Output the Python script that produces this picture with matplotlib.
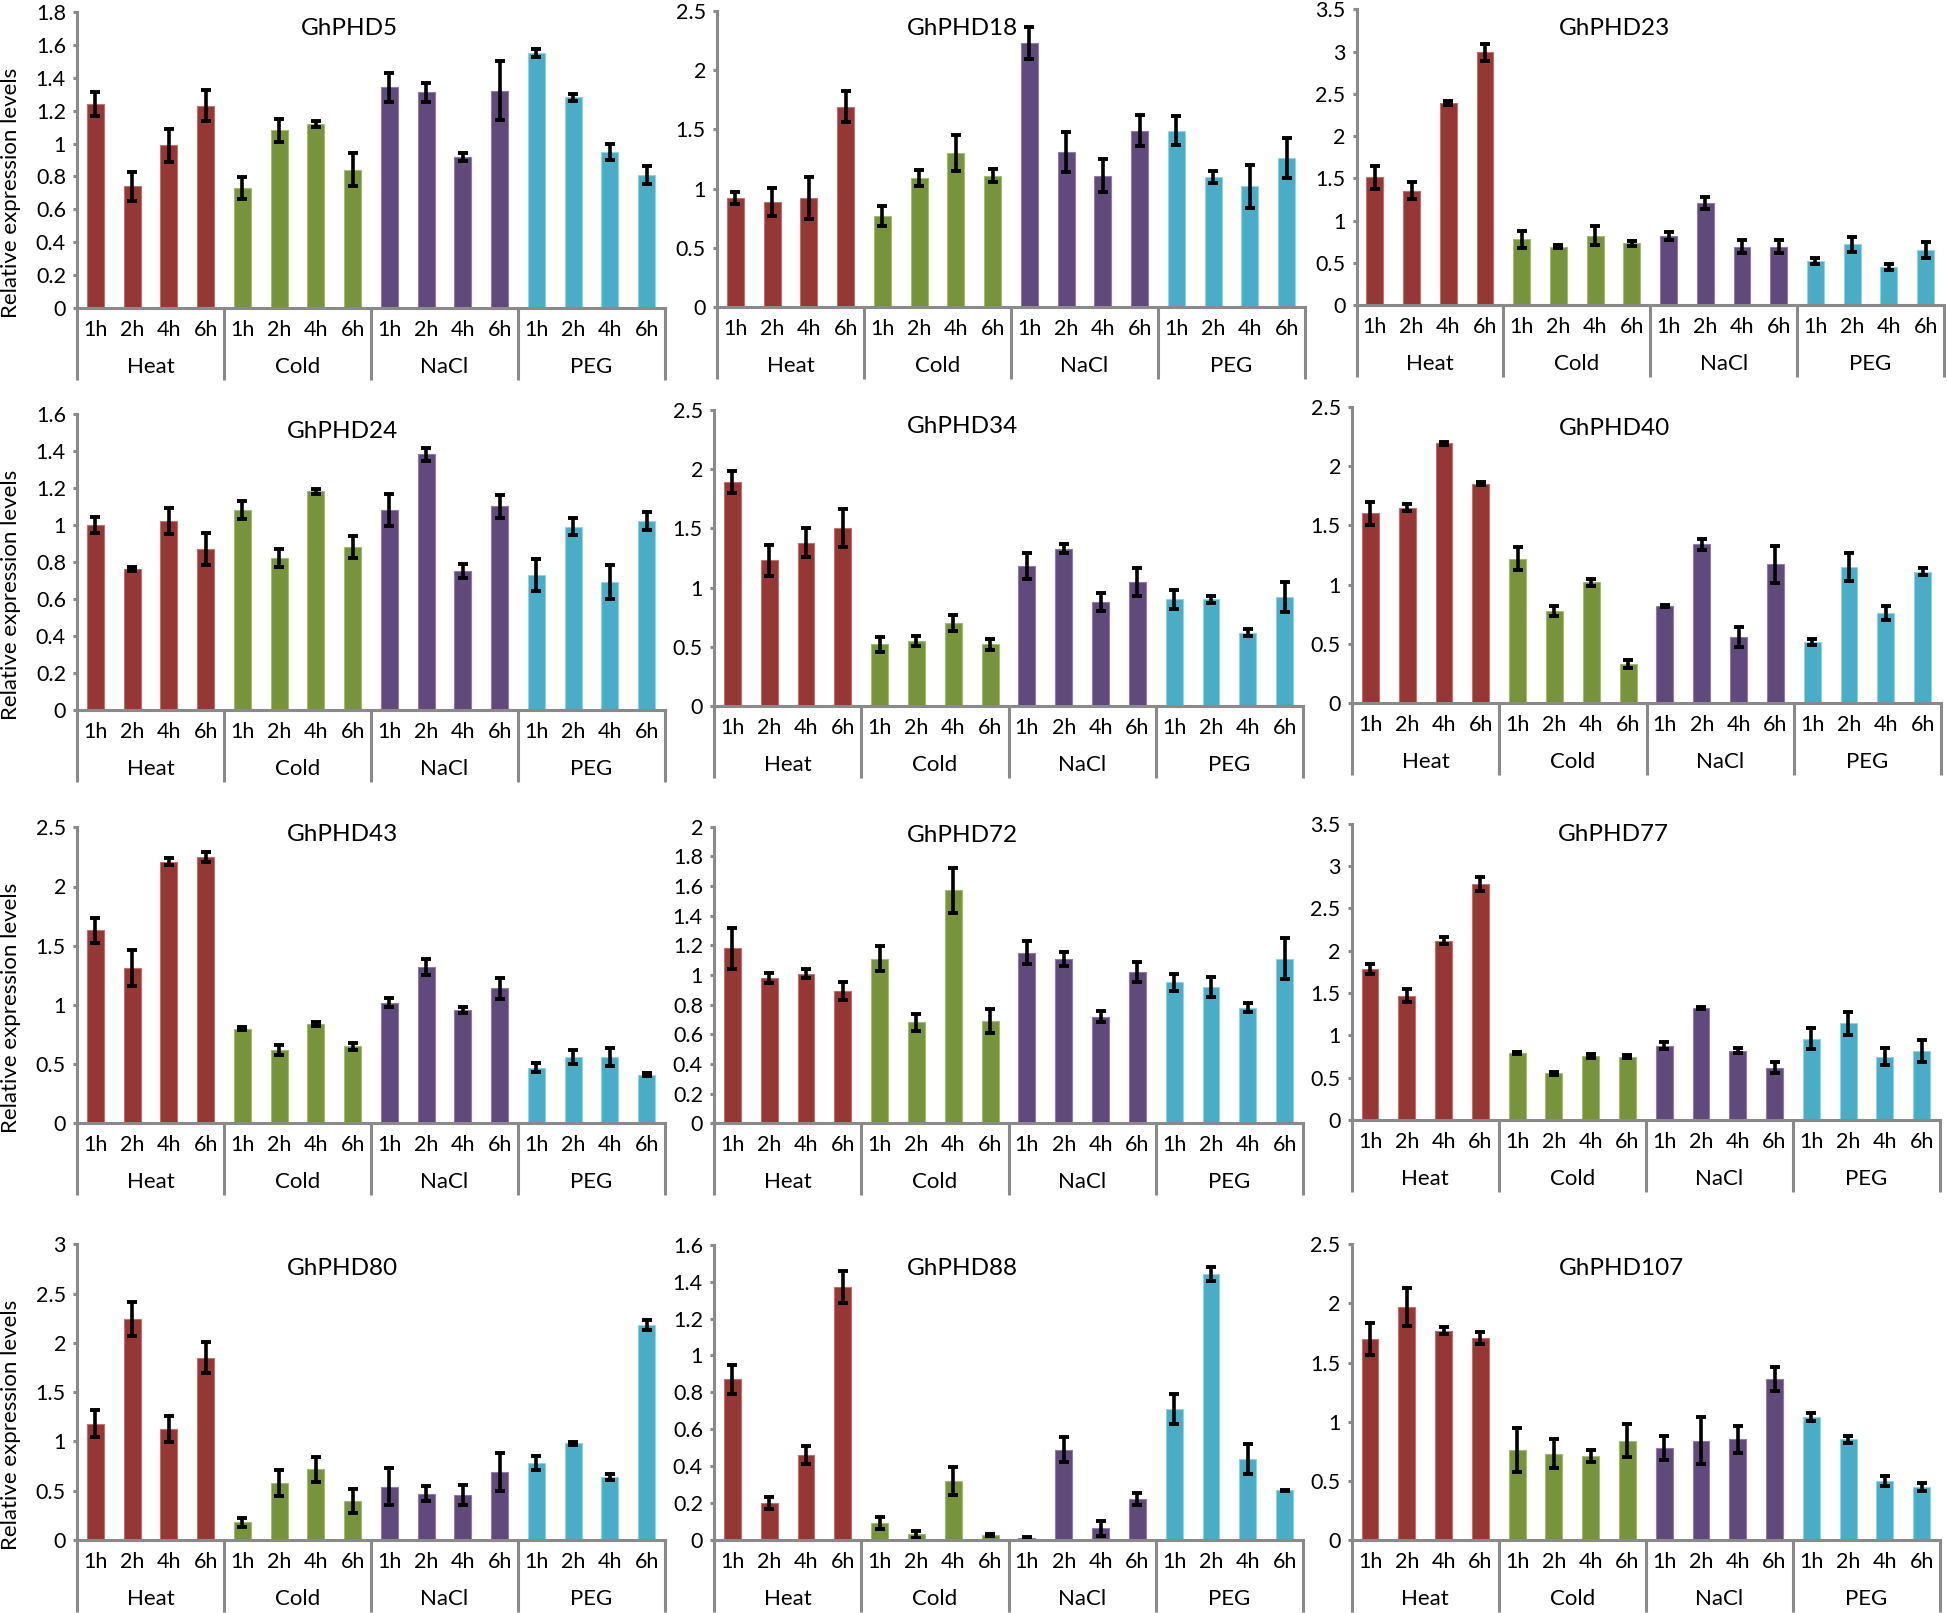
import numpy as np
import matplotlib
matplotlib.use("Agg")
import matplotlib.pyplot as plt
import matplotlib.transforms as mtransforms
from matplotlib.ticker import FuncFormatter

plt.rcParams['font.family'] = ['Lato', 'DejaVu Sans']

# ---------------- data ----------------
genes = ['GhPHD5', 'GhPHD18', 'GhPHD23', 'GhPHD24', 'GhPHD34', 'GhPHD40',
         'GhPHD43', 'GhPHD72', 'GhPHD77', 'GhPHD80', 'GhPHD88', 'GhPHD107']
treatments = ['Heat', 'Cold', 'NaCl', 'PEG']
hours = ['1h', '2h', '4h', '6h']

ghphd5_mean = [1.24, 0.74, 0.99, 1.23, 0.73, 1.08, 1.12, 0.84, 1.34, 1.31, 0.92, 1.32, 1.55, 1.28, 0.95, 0.81]
ghphd5_err = [0.07, 0.09, 0.10, 0.095, 0.065, 0.07, 0.018, 0.10, 0.085, 0.06, 0.025, 0.18, 0.025, 0.022, 0.05, 0.055]
ghphd18_mean = [0.92, 0.89, 0.92, 1.69, 0.77, 1.09, 1.30, 1.11, 2.23, 1.31, 1.11, 1.49, 1.49, 1.10, 1.02, 1.26]
ghphd18_err = [0.053, 0.117, 0.175, 0.13, 0.083, 0.07, 0.155, 0.055, 0.135, 0.17, 0.14, 0.13, 0.12, 0.05, 0.18, 0.17]
ghphd23_mean = [1.51, 1.35, 2.39, 2.99, 0.78, 0.69, 0.82, 0.73, 0.82, 1.21, 0.69, 0.69, 0.52, 0.72, 0.45, 0.65]
ghphd23_err = [0.135, 0.10, 0.025, 0.10, 0.10, 0.02, 0.115, 0.03, 0.045, 0.07, 0.075, 0.075, 0.035, 0.09, 0.035, 0.09]
ghphd24_mean = [1.00, 0.76, 1.02, 0.87, 1.08, 0.82, 1.18, 0.88, 1.08, 1.38, 0.75, 1.10, 0.73, 0.99, 0.69, 1.02]
ghphd24_err = [0.042, 0.01, 0.072, 0.085, 0.05, 0.048, 0.015, 0.058, 0.088, 0.035, 0.038, 0.063, 0.088, 0.045, 0.092, 0.05]
ghphd34_mean = [1.89, 1.23, 1.38, 1.50, 0.52, 0.55, 0.70, 0.52, 1.18, 1.33, 0.88, 1.05, 0.90, 0.90, 0.62, 0.92]
ghphd34_err = [0.095, 0.13, 0.124, 0.16, 0.065, 0.04, 0.07, 0.045, 0.11, 0.035, 0.075, 0.118, 0.08, 0.03, 0.03, 0.128]
ghphd40_mean = [1.60, 1.65, 2.19, 1.85, 1.22, 0.78, 1.02, 0.33, 0.82, 1.34, 0.56, 1.17, 0.52, 1.15, 0.76, 1.11]
ghphd40_err = [0.097, 0.03, 0.015, 0.014, 0.094, 0.04, 0.03, 0.032, 0.01, 0.045, 0.084, 0.157, 0.025, 0.118, 0.057, 0.028]
ghphd43_mean = [1.63, 1.31, 2.21, 2.25, 0.80, 0.62, 0.84, 0.65, 1.02, 1.32, 0.96, 1.14, 0.47, 0.56, 0.56, 0.41]
ghphd43_err = [0.105, 0.15, 0.032, 0.04, 0.01, 0.045, 0.016, 0.03, 0.04, 0.07, 0.025, 0.09, 0.04, 0.062, 0.077, 0.013]
ghphd72_mean = [1.18, 0.98, 1.01, 0.89, 1.11, 0.68, 1.57, 0.69, 1.15, 1.11, 0.72, 1.02, 0.95, 0.92, 0.78, 1.11]
ghphd72_err = [0.138, 0.034, 0.033, 0.06, 0.085, 0.058, 0.152, 0.078, 0.079, 0.046, 0.034, 0.065, 0.06, 0.066, 0.028, 0.137]
ghphd77_mean = [1.78, 1.47, 2.12, 2.79, 0.79, 0.55, 0.76, 0.75, 0.88, 1.32, 0.82, 0.62, 0.96, 1.14, 0.75, 0.81]
ghphd77_err = [0.06, 0.08, 0.037, 0.08, 0.016, 0.016, 0.022, 0.02, 0.04, 0.01, 0.033, 0.06, 0.124, 0.132, 0.095, 0.13]
ghphd80_mean = [1.18, 2.24, 1.13, 1.85, 0.18, 0.58, 0.72, 0.40, 0.54, 0.47, 0.46, 0.69, 0.78, 0.98, 0.64, 2.18]
ghphd80_err = [0.135, 0.17, 0.132, 0.154, 0.047, 0.13, 0.127, 0.122, 0.188, 0.076, 0.10, 0.193, 0.071, 0.017, 0.032, 0.053]
ghphd88_mean = [0.87, 0.20, 0.46, 1.37, 0.09, 0.03, 0.32, 0.025, 0.013, 0.49, 0.063, 0.22, 0.71, 1.44, 0.44, 0.27]
ghphd88_err = [0.078, 0.033, 0.048, 0.088, 0.033, 0.017, 0.076, 0.006, 0.005, 0.07, 0.042, 0.032, 0.081, 0.037, 0.08, 0.003]
ghphd107_mean = [1.70, 1.97, 1.77, 1.71, 0.76, 0.73, 0.71, 0.84, 0.78, 0.84, 0.85, 1.36, 1.04, 0.85, 0.50, 0.45]
ghphd107_err = [0.135, 0.158, 0.032, 0.05, 0.185, 0.121, 0.054, 0.137, 0.1, 0.2, 0.116, 0.1, 0.035, 0.027, 0.045, 0.035]

y_max = [1.8, 2.5, 3.5, 1.6, 2.5, 2.5, 2.5, 2.0, 3.5, 3.0, 1.6, 2.5]
y_step = [0.2, 0.5, 0.5, 0.2, 0.5, 0.5, 0.5, 0.2, 0.5, 0.5, 0.2, 0.5]

means = [ghphd5_mean, ghphd18_mean, ghphd23_mean, ghphd24_mean, ghphd34_mean, ghphd40_mean,
         ghphd43_mean, ghphd72_mean, ghphd77_mean, ghphd80_mean, ghphd88_mean, ghphd107_mean]
errs = [ghphd5_err, ghphd18_err, ghphd23_err, ghphd24_err, ghphd34_err, ghphd40_err,
        ghphd43_err, ghphd72_err, ghphd77_err, ghphd80_err, ghphd88_err, ghphd107_err]

# ---------------- style / layout ----------------
colors = ['#953735', '#77933C', '#604A7B', '#4BACC6']
edge_colors = ['#c0706e', '#a3bd6e', '#8f7aa8', '#8fd3e6']
axis_gray = '#8a8a8a'

W, H = 1947, 1613
# panel pixel boxes: (left, right, top, zero-line)
panel_px = [
    (77, 665, 11.7, 308.3), (717, 1305, 10.7, 307.3), (1356.5, 1944, 9.3, 305),
    (77, 665, 413.7, 710), (714, 1303, 410, 706), (1352, 1941, 406.7, 703.3),
    (77, 665, 827.3, 1123.3), (714, 1303, 826.7, 1123.3), (1351.6, 1940, 823.7, 1120),
    (77, 665, 1244.3, 1540), (714, 1303, 1244.7, 1540), (1351.6, 1940, 1244.3, 1540),
]
title_pos = [(0.464, 0.945), (0.418, 0.94), (0.44, 0.936),
             (0.452, 0.94), (0.422, 0.944), (0.445, 0.927),
             (0.452, 0.974), (0.422, 0.972), (0.445, 0.962),
             (0.452, 0.919), (0.422, 0.92), (0.459, 0.919)]

fig = plt.figure(figsize=(W / 100, H / 100), dpi=100)

n_h = len(hours)
n_cat = len(treatments) * n_h
x = np.arange(n_cat)
bar_colors = [colors[i // n_h] for i in range(n_cat)]
bar_edges = [edge_colors[i // n_h] for i in range(n_cat)]

for k, gene in enumerate(genes):
    l, r, t, z = panel_px[k]
    ax = fig.add_axes([l / W, 1 - z / H, (r - l) / W, (z - t) / H])
    ax.set_facecolor('none')
    hpx = z - t

    ax.bar(x, means[k], width=0.46, color=bar_colors, edgecolor=bar_edges,
           linewidth=0.8, zorder=2)
    ax.errorbar(x, means[k], yerr=errs[k], fmt='none', ecolor='black',
                elinewidth=2.6, capsize=3.4, capthick=2.8, zorder=3)

    ax.set_xlim(-0.5, n_cat - 0.5)
    ax.set_ylim(0, y_max[k])
    ax.set_yticks(np.arange(0, y_max[k] + y_step[k] / 2, y_step[k]))
    ax.yaxis.set_major_formatter(FuncFormatter(lambda v, p: '%g' % round(v, 2)))

    for s in ['top', 'right']:
        ax.spines[s].set_visible(False)
    for s in ['left', 'bottom']:
        ax.spines[s].set_color(axis_gray)
        ax.spines[s].set_linewidth(2.2)
        ax.spines[s].set_zorder(4)

    ax.tick_params(axis='y', direction='out', length=3, width=2.2, color=axis_gray,
                   labelsize=15.5, pad=5, labelcolor='black')
    ax.set_xticks(x)
    ax.set_xticklabels(hours * len(treatments))
    ax.tick_params(axis='x', length=0, labelsize=15.5, pad=8.5, labelcolor='black')

    # group separators (multi-level category axis)
    trans = mtransforms.blended_transform_factory(ax.transData, ax.transAxes)
    yb = -72.0 / hpx
    for g in range(len(treatments) + 1):
        xb = -0.5 + g * n_h
        ax.plot([xb, xb], [0, yb], transform=trans, color=axis_gray,
                linewidth=2.2, clip_on=False, solid_capstyle='butt', zorder=4)
    for g, name in enumerate(treatments):
        ax.text(g * n_h + (n_h - 1) / 2, -59.0 / hpx, name, transform=trans,
                ha='center', va='center', fontsize=16)

    tx, ty = title_pos[k]
    ax.text(tx, ty, gene, transform=ax.transAxes, ha='center', va='center',
            fontsize=17.5)

    if k % 3 == 0:
        fig.text(11.5 / W, 1 - (z - 0.39 * hpx) / H, 'Relative expression levels',
                 rotation=90, ha='center', va='center', fontsize=16)

fig.savefig('out.png', dpi=100, facecolor='white')
